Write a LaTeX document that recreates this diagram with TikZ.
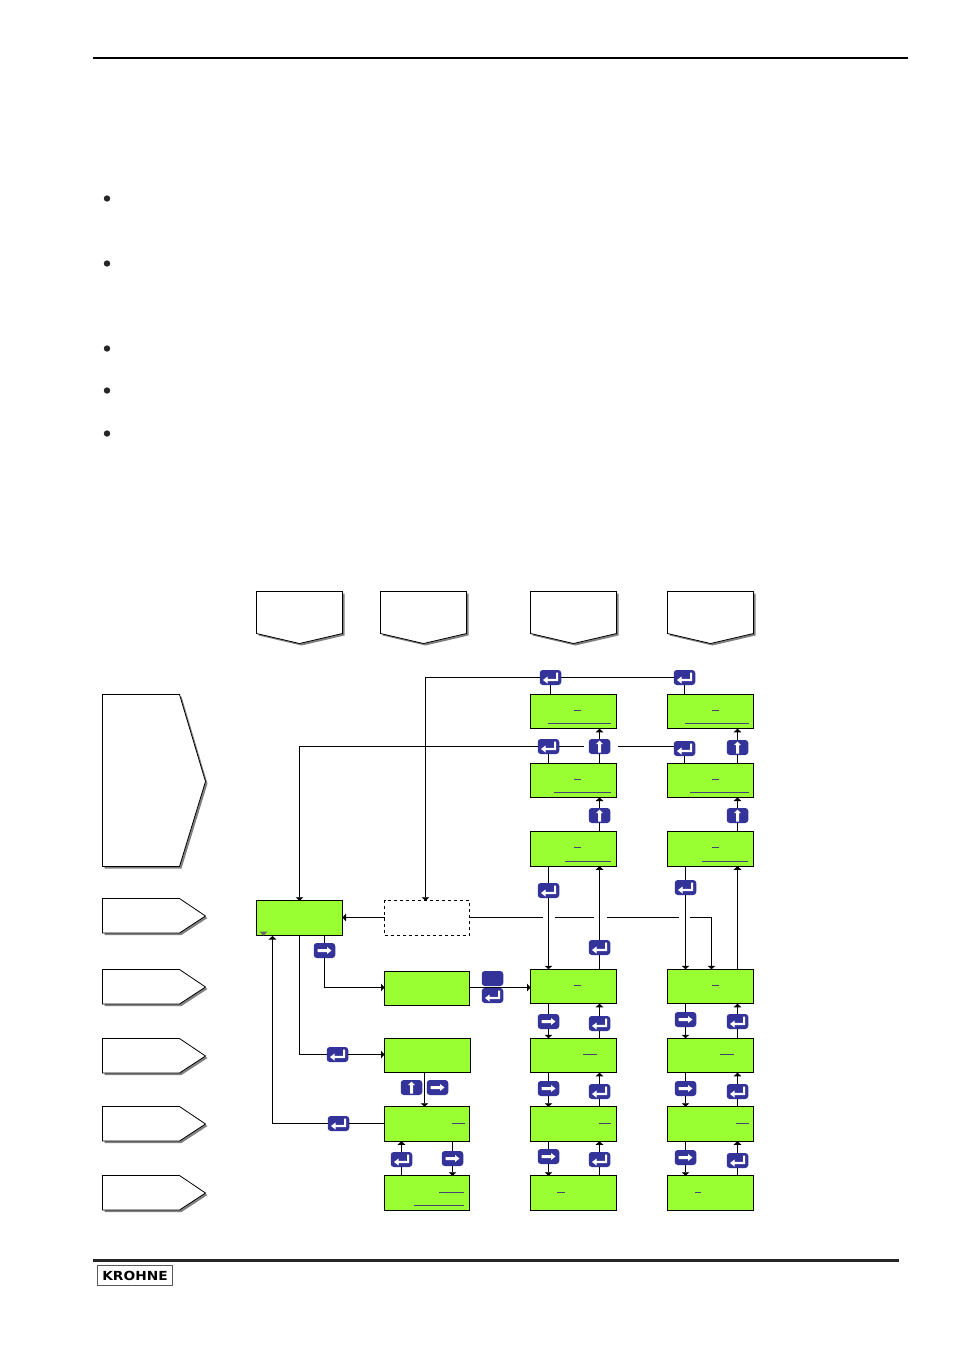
\documentclass[tikz,border=0pt]{standalone}
\usepackage{fontspec}
\newfontfamily\logofont[FakeStretch=1.1]{DejaVu Sans}
\usetikzlibrary{arrows.meta,positioning,shadows}
\definecolor{mylime}{HTML}{99FF33}
\definecolor{mykeyblue}{HTML}{333399}
\definecolor{mycursorblue}{HTML}{444477}
\tikzset{
  mylcd/.style = {rectangle, draw, fill=mylime, line width=1pt, outer sep=0pt, inner sep=0pt, minimum height=34.5pt, minimum width=86pt},
  mylcdshort/.style = {mylcd, minimum width=85pt},
  myempty/.style = {mylcdshort, fill=none, dashed},
  mykey/.style = {rectangle, rounded corners=3pt, fill=mykeyblue, outer sep=0pt, inner sep=0pt, minimum height=15pt, minimum width=21.5pt},
  mykeyenter/.style = {mykey, path picture={
    \fill[white, sharp corners, shift={(path picture bounding box.center)}]
      (-7.5pt,-2.5pt) -- (-3pt,1pt) -- (-3pt,-1.3pt) -- (5.7pt,-1.3pt) -- (5.7pt,5pt) -- (7.7pt,5pt) -- (7.7pt,-3.5pt) -- (-3pt,-3.5pt) -- (-3pt,-6pt) -- cycle;}},
  mykeyright/.style = {mykey, path picture={
    \fill[white, sharp corners, shift={(path picture bounding box.center)}]
      (-6.8pt,1.5pt) -- (2.5pt,1.5pt) -- (2.5pt,3.5pt) -- (7pt,0pt) -- (2.5pt,-3.5pt) -- (2.5pt,-1.5pt) -- (-6.8pt,-1.5pt) -- cycle;}},
  mykeyup/.style = {mykey, path picture={
    \fill[white, sharp corners, shift={(path picture bounding box.center)}]
      (-1.5pt,-6pt) -- (-1.5pt,2.5pt) -- (-3.3pt,2.5pt) -- (0pt,6pt) -- (3.3pt,2.5pt) -- (1.5pt,2.5pt) -- (1.5pt,-6pt) -- cycle;}},
  mytag/.style = {draw, fill=white, line width=0.8pt, drop shadow={shadow xshift=2pt, shadow yshift=-2pt, fill=gray, opacity=1}},
  mythin/.style = {line width=0.9pt},
  myarrow/.style = {-{Triangle[length=3.5pt,width=7.5pt]}, line width=0.9pt},
  mycursor/.style = {color=mycursorblue, line width=0.8pt},
}

\begin{document}
\begin{tikzpicture}[x=1pt, y=-1pt, shift={(0.5,0.5)}, node distance=34.5pt]
\useasboundingbox (-0.5,-0.5) rectangle (953.5,1349.5);

% page rules and logo
\draw[line width=2pt] (92.5,57.5) -- (907.5,57.5);
\draw[line width=3pt, color=black!85] (92,1260) -- (898.5,1260);
\node (logo) [draw=black!65, line width=1pt, minimum width=75pt, minimum height=20pt, inner sep=0pt] at (134.5,1275) {\logofont\bfseries\fontsize{12.5pt}{14pt}\selectfont KROHNE};
\foreach \y in {198,263,348,390,433}{
  \fill[black!85] (106.5,\y) circle (3.2pt);
}

% tags
\foreach \x in {256,380,530,667}{
  \draw[mytag] (\x,591) -- (\x+86,591) -- (\x+86,633) -- (\x+43,643) -- (\x,633) -- cycle;
}
\draw[mytag] (102,694) -- (179,694) -- (205,781) -- (179,866) -- (102,866) -- cycle;
\foreach \y in {898,969,1038,1106,1175}{
  \draw[mytag] (102,\y) -- (179,\y) -- (205,\y+17.5) -- (179,\y+34.5) -- (102,\y+34.5) -- cycle;
}

% displays
\node (dash) [myempty] at (426.5,917.5) {};
\node (main) [mylcd, left=42pt of dash] {};
\node (b) [mylcdshort, below=36pt of dash] {};
\node (c) [mylcd, below=32.5pt of b, xshift=0.5pt] {};
\node (d) [mylcdshort, below=34pt of c, xshift=-0.5pt] {};
\node (e) [mylcdshort, below=of d] {};

\node (c3r1) [mylcd] at (573,711) {};
\node (c3r2) [mylcd, below=34.25pt of c3r1] {};
\node (c3r3) [mylcd, below=34.25pt of c3r2] {};
\node (c3r4) [mylcd, below=103pt of c3r3] {};
\node (c3r5) [mylcd, below=of c3r4] {};
\node (c3r6) [mylcd, below=34pt of c3r5] {};
\node (c3r7) [mylcd, below=of c3r6] {};

\node (c4r1) [mylcd, right=51pt of c3r1] {};
\node (c4r2) [mylcd, right=51pt of c3r2] {};
\node (c4r3) [mylcd, right=51pt of c3r3] {};
\node (c4r4) [mylcd, right=51pt of c3r4] {};
\node (c4r5) [mylcd, right=51pt of c3r5] {};
\node (c4r6) [mylcd, right=51pt of c3r6] {};
\node (c4r7) [mylcd, right=51pt of c3r7] {};

% free ends of the broken lines
\coordinate (g1) at (542,917);
\coordinate (g2) at (554,917);
\coordinate (g3) at (593,917);
\coordinate (g4) at (606,917);
\coordinate (g5) at (678,917);
\coordinate (g6) at (689,917);
\coordinate (g7) at (583,746);
\coordinate (g8) at (617,746);
\coordinate (g9) at (500,987);
\coordinate (mainin) at (272,935.5);

\draw[myarrow] (b.east |- g9) -- (c3r4.west |- g9);

% keys
\node (krm) [mykeyright] at (324,950) {};
\node (kbb) [mykey] at (492,978) {};
\node (keb) [mykeyenter] at (492,995) {};
\node (kec) [mykeyenter] at (337,1054) {};
\node (kuc) [mykeyup] at (411,1087) {};
\node (krc) [mykeyright] at (437,1087) {};
\node (ked) [mykeyenter] at (338,1123) {};
\node (kee) [mykeyenter] at (401,1159) {};
\node (kre) [mykeyright] at (452,1158) {};

\node (ke3t) [mykeyenter] at (550,677) {};
\node (ke3r) [mykeyenter] at (548,746) {};
\node (ku3a) [mykeyup] at (599,746) {};
\node (ku3b) [mykeyup] at (599,815) {};
\node (ke3a) [mykeyenter] at (548,890) {};
\node (ke3b) [mykeyenter] at (599,947) {};
\node (kr3a) [mykeyright] at (548,1021) {};
\node (ke3c) [mykeyenter] at (599,1023) {};
\node (kr3b) [mykeyright] at (548,1088) {};
\node (ke3d) [mykeyenter] at (599,1091) {};
\node (kr3c) [mykeyright] at (548,1156) {};
\node (ke3e) [mykeyenter] at (599,1159) {};

\node (ke4t) [mykeyenter] at (684,677) {};
\node (ke4r) [mykeyenter] at (684,748) {};
\node (ku4a) [mykeyup] at (737,747) {};
\node (ku4b) [mykeyup] at (737,815) {};
\node (ke4a) [mykeyenter] at (685,887) {};
\node (kr4a) [mykeyright] at (685,1019) {};
\node (ke4c) [mykeyenter] at (737,1021) {};
\node (kr4b) [mykeyright] at (685,1088) {};
\node (ke4d) [mykeyenter] at (737,1091) {};
\node (kr4c) [mykeyright] at (685,1157) {};
\node (ke4e) [mykeyenter] at (737,1160) {};

% connectors down and up the columns
\foreach \u/\k/\v in {c3r3/ke3a/c3r4,c3r4/kr3a/c3r5,c3r5/kr3b/c3r6,c3r6/kr3c/c3r7,c4r3/ke4a/c4r4,c4r4/kr4a/c4r5,c4r5/kr4b/c4r6,c4r6/kr4c/c4r7,d/kre/e}{
  \draw[mythin] (\u.south -| \k) -- (\k);
  \draw[myarrow] (\k) -- (\v.north -| \k);
}
\foreach \u/\k/\v in {c3r2/ku3a/c3r1,c3r3/ku3b/c3r2,c3r4/ke3b/c3r3,c3r5/ke3c/c3r4,c3r6/ke3d/c3r5,c3r7/ke3e/c3r6,c4r2/ku4a/c4r1,c4r3/ku4b/c4r2,c4r5/ke4c/c4r4,c4r6/ke4d/c4r5,c4r7/ke4e/c4r6,e/kee/d}{
  \draw[mythin] (\u.north -| \k) -- (\k);
  \draw[myarrow] (\k) -- (\v.south -| \k);
}
\draw[myarrow] (c4r4.north -| ku4b) -- (c4r3.south -| ku4b);

% returns at the top
\draw[mythin] (c3r1.north -| ke3t) -- (ke3t);
\draw[mythin] (c4r1.north -| ke4t) -- (ke4t);
\draw[mythin] (ke4t) -- (ke3t);
\draw[myarrow] (ke3t) -| ([xshift=-1.5pt]dash.north);
\draw[mythin] (c3r2.north -| ke3r) -- (ke3r);
\draw[mythin] (c4r2.north -| ke4r) -- (ke4r);
\draw[mythin] (ke4r.west |- g8) -- (g8);
\draw[mythin] (g7) -- (ke3r);
\draw[myarrow] (ke3r) -| (main.north);

% the dashed box
\draw[myarrow] (dash.west |- g1) -- (main.east |- g1);
\draw[mythin] (dash.east |- g1) -- (g1) (g2) -- (g3) (g4) -- (g5);
\draw[myarrow] (g6) -| ([xshift=1pt]c4r4.north);

% main display
\draw[mythin] (main.south -| krm) -- (krm);
\draw[myarrow] (krm) |- (b.west |- g9);
\draw[mythin] (main.south) |- (kec);
\draw[myarrow] (kec) -- (c.west |- kec);
\draw[myarrow] ([xshift=-3pt]c.south) -- ([xshift=-2.5pt]d.north);
\draw[mythin] (d.west |- ked) -- (ked);
\draw[myarrow] (ked) -| (mainin);
\fill[black!60] (259,931) -- (267,931) -- (263,935) -- cycle;

% cursors
\foreach \xa/\xb/\y in {573/580/710,547/610/723,573/580/779,553/610/792,573/580/847,564/610/861,573/580/985,582/596/1054,598/610/1123,556/564/1192,711/718/710,684/748/723,711/718/779,689/748/792,711/718/847,701/747/861,711/718/985,719/733/1054,735/748/1123,694/700/1192,451/464/1123,438/463/1192,413/463/1205}{
  \draw[mycursor] (\xa,\y) -- (\xb,\y);
}
\end{tikzpicture}
\end{document}
